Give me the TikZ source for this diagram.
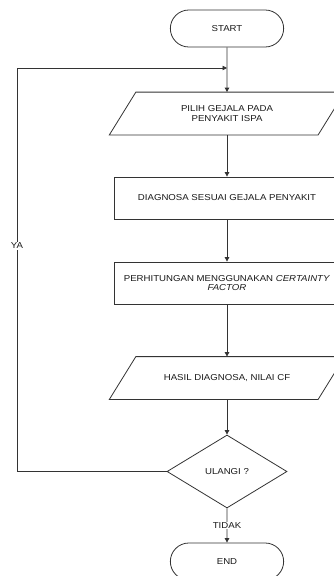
\documentclass[tikz,border=0pt]{standalone}
\usepackage{fontspec}
\setmainfont[FakeStretch=1.12]{Liberation Sans}
\usetikzlibrary{positioning,arrows.meta,shapes.geometric,shapes.misc,calc}

% parallelogram round a named node
\newcommand{\ioframe}[1]{%
  \draw ($(#1.south west)+(-13.25,0)$) -- ($(#1.north west)+(13.25,0)$)
    -- ($(#1.north east)+(13.25,0)$) -- ($(#1.south east)+(-13.25,0)$) -- cycle;}

\begin{document}
\begin{tikzpicture}[x=1pt, y=-1pt, line width=0.8pt, color=black!80,
  font=\fontsize{8.6}{9.5}\selectfont,
  every node/.style={text=black!90},
  term/.style={draw, fill=white, rounded rectangle, minimum width=120pt, minimum height=37pt},
  io/.style={rectangle, minimum width=208pt, minimum height=42pt, align=center},
  proc/.style={draw, fill=white, rectangle, minimum width=226pt, minimum height=42pt, align=center},
  decide/.style={draw, fill=white, diamond, aspect=1.64, minimum width=120pt, minimum height=73pt, inner sep=0pt},
  arrow/.style={-{Triangle[length=4.5pt,width=4.5pt]}},
  lbl/.style={fill=white, inner sep=1pt}]

\useasboundingbox (0,0) rectangle (334,576);
\clip (0,0) rectangle (334,576);

% Nodes
\node[term] (start) at (227,28.5) {START};
\node[io] (pilih) at (227,113.5) {PILIH GEJALA PADA\\PENYAKIT ISPA};
\node[proc] (diag) at (227,198) {DIAGNOSA SESUAI GEJALA PENYAKIT};
\node[proc] (hitung) at (227,283) {PERHITUNGAN MENGGUNAKAN \textit{CERTAINTY}\\\textit{FACTOR}};
\node[io] (hasil) at (227,378) {HASIL DIAGNOSA, NILAI CF};
\node[decide] (ulang) at (227,471.5) {ULANGI ?};
\node[term] (end) at (227,561.5) {END};

% Parallelogram frames
\ioframe{pilih}
\ioframe{hasil}

% Loop points
\coordinate (join) at (227,68);
\coordinate (back) at (17,68);

% Arrows
\draw[arrow] (start) -- (pilih);
\draw[arrow] (pilih) -- (diag);
\draw[arrow] (diag) -- (hitung);
\draw[arrow] (hitung) -- (hasil);
\draw[arrow] (hasil) -- (ulang);
\draw[arrow] (ulang) -- node[lbl] {TIDAK} (end);
\draw[arrow] (ulang.west) -| node[lbl, pos=0.78] {YA} (back) -- (join);

\end{tikzpicture}
\end{document}
